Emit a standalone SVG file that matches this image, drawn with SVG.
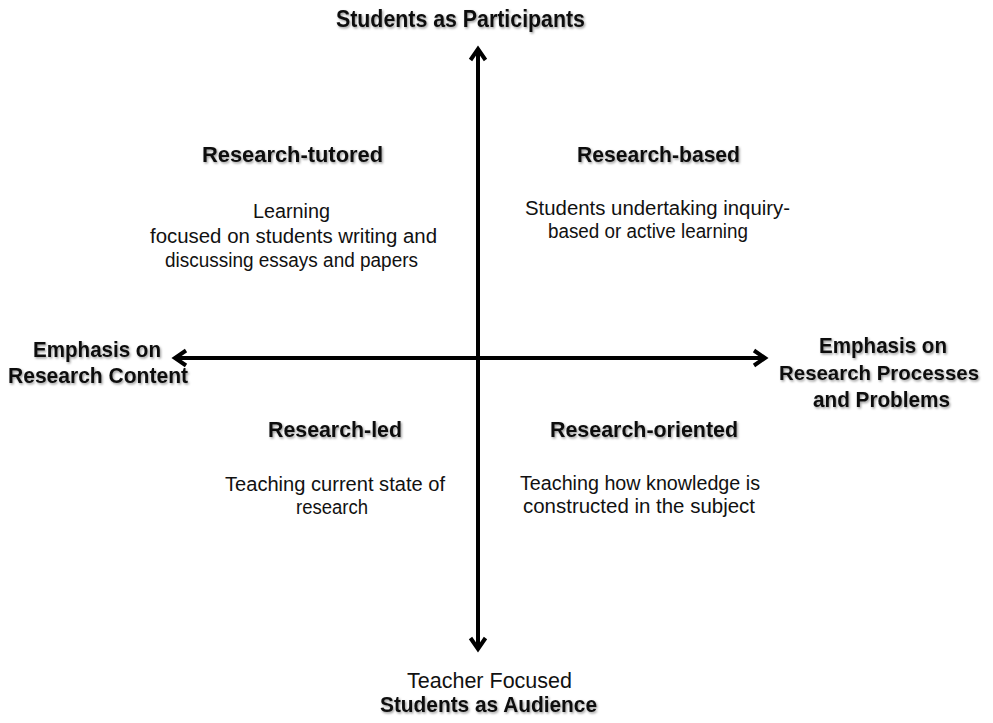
<svg xmlns="http://www.w3.org/2000/svg" width="993" height="723" viewBox="0 0 993 723">
  <style>
    text { font-family: "Liberation Sans", Arial, sans-serif; fill: #111; }
    .b { font-weight: bold; font-size: 22px; filter: url(#sh); }
    .r { font-size: 20px; }
    .axis { stroke: #000; stroke-width: 4; fill: none; }
  </style>
  <defs>
    <filter id="sh" x="-3%" y="-30%" width="106%" height="160%">
      <feDropShadow dx="1.2" dy="1.5" stdDeviation="1.2" flood-color="#000" flood-opacity="0.4"/>
    </filter>
    <marker id="arr" markerUnits="userSpaceOnUse" viewBox="-16 -10 20 20" refX="0" refY="0" markerWidth="20" markerHeight="20" orient="auto-start-reverse" overflow="visible">
      <path d="M-11,-7.5 L0,0 L-11,7.5" fill="none" stroke="#000" stroke-width="4" stroke-linejoin="miter" stroke-linecap="butt"/>
    </marker>
  </defs>
  <rect width="993" height="723" fill="#fff"/>

  <g id="connectors">
    <line class="axis" x1="478" y1="49" x2="478" y2="649" marker-start="url(#arr)" marker-end="url(#arr)"/>
    <line class="axis" x1="175" y1="358" x2="765" y2="358" marker-start="url(#arr)" marker-end="url(#arr)"/>
  </g>

  <g id="students-participants">
    <text class="b" x="336" y="27" textLength="249" lengthAdjust="spacingAndGlyphs" style="font-size:23px">Students as Participants</text>
  </g>

  <g id="research-tutored">
    <text class="b" x="202" y="162" textLength="181" lengthAdjust="spacingAndGlyphs">Research-tutored</text>
    <text class="r" x="253" y="218" textLength="77" lengthAdjust="spacingAndGlyphs">Learning</text>
    <text class="r" x="150" y="243" textLength="287" lengthAdjust="spacingAndGlyphs">focused on students writing and</text>
    <text class="r" x="165" y="267" textLength="253" lengthAdjust="spacingAndGlyphs">discussing essays and papers</text>
  </g>

  <g id="research-based">
    <text class="b" x="577" y="162" textLength="163" lengthAdjust="spacingAndGlyphs">Research-based</text>
    <text class="r" x="525" y="215" textLength="265" lengthAdjust="spacingAndGlyphs">Students undertaking inquiry-</text>
    <text class="r" x="548" y="238" textLength="200" lengthAdjust="spacingAndGlyphs">based or active learning</text>
  </g>

  <g id="emphasis-content">
    <text class="b" x="33" y="357" textLength="128" lengthAdjust="spacingAndGlyphs">Emphasis on</text>
    <text class="b" x="8" y="383" textLength="180" lengthAdjust="spacingAndGlyphs">Research Content</text>
  </g>

  <g id="emphasis-processes">
    <text class="b" x="819" y="353" textLength="128" lengthAdjust="spacingAndGlyphs">Emphasis on</text>
    <text class="b" x="779" y="380" textLength="200" lengthAdjust="spacingAndGlyphs" style="font-size:21px">Research Processes</text>
    <text class="b" x="813" y="407" textLength="137" lengthAdjust="spacingAndGlyphs">and Problems</text>
  </g>

  <g id="research-led">
    <text class="b" x="268" y="437" textLength="134" lengthAdjust="spacingAndGlyphs">Research-led</text>
    <text class="r" x="225" y="491" textLength="220" lengthAdjust="spacingAndGlyphs">Teaching current state of</text>
    <text class="r" x="296" y="514" textLength="72" lengthAdjust="spacingAndGlyphs">research</text>
  </g>

  <g id="research-oriented">
    <text class="b" x="550" y="437" textLength="188" lengthAdjust="spacingAndGlyphs">Research-oriented</text>
    <text class="r" x="520" y="490" textLength="240" lengthAdjust="spacingAndGlyphs">Teaching how knowledge is</text>
    <text class="r" x="523" y="513" textLength="232" lengthAdjust="spacingAndGlyphs">constructed in the subject</text>
  </g>

  <g id="students-audience">
    <text x="407" y="688" textLength="165" lengthAdjust="spacingAndGlyphs" style="font-size:22px">Teacher Focused</text>
    <text class="b" x="380" y="712" textLength="217" lengthAdjust="spacingAndGlyphs">Students as Audience</text>
  </g>
</svg>
